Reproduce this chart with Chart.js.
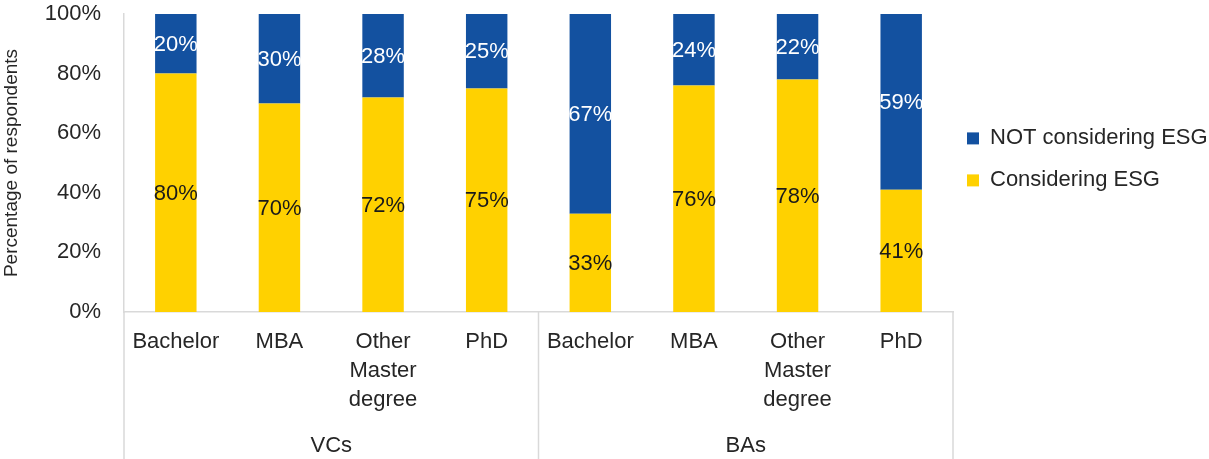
<!DOCTYPE html>
<html lang="en">
<head>
    <meta charset="UTF-8" />
    <title>ESG consideration by education</title>
    <script src="https://cdn.jsdelivr.net/npm/chart.js"></script>
    <style>
        body {
            margin: 0;
            background: #ffffff;
        }
        .chart-box {
            width: 1209px;
            height: 459px;
        }
    </style>
</head>
<body>

<div class="chart-box">
    <canvas id="esgChart"></canvas>
</div>

<script>
    // Data
    const categories = [
        'Bachelor', 'MBA', ['Other', 'Master', 'degree'], 'PhD',
        'Bachelor', 'MBA', ['Other', 'Master', 'degree'], 'PhD'
    ];
    const groups = ['VCs', 'BAs'];
    const groupSize = 4;
    const considering = [80, 70, 72, 75, 33, 76, 78, 41];
    const notConsidering = [20, 30, 28, 25, 67, 24, 22, 59];
    const yTicks = [0, 20, 40, 60, 80, 100];

    const FONT = "'Liberation Sans', Arial, sans-serif";
    const TEXT = '#262626';
    const LINE = '#d9d9d9';

    // Values inside each segment
    const barLabels = {
        id: 'barLabels',
        afterDatasetsDraw(chart) {
            const ctx = chart.ctx;
            ctx.save();
            ctx.font = '22px ' + FONT;
            ctx.textAlign = 'center';
            ctx.textBaseline = 'middle';
            chart.data.datasets.forEach((ds, i) => {
                const meta = chart.getDatasetMeta(i);
                meta.data.forEach((bar, j) => {
                    const p = bar.getProps(['x', 'y', 'base'], true);
                    ctx.fillStyle = ds.labelColor;
                    ctx.fillText(ds.data[j] + '%', p.x, (p.y + p.base) / 2 + 1);
                });
            });
            ctx.restore();
        }
    };

    // Group separators and group names under the category labels
    const groupAxis = {
        id: 'groupAxis',
        afterDraw(chart) {
            const ctx = chart.ctx;
            const x = chart.scales.x;
            const bottom = chart.height;
            const half = (x.getPixelForValue(1) - x.getPixelForValue(0)) / 2;
            ctx.save();
            ctx.strokeStyle = LINE;
            ctx.lineWidth = 1.5;
            for (let g = 0; g <= groups.length; g++) {
                const px = g < groups.length
                    ? x.getPixelForValue(g * groupSize) - half
                    : x.getPixelForValue(categories.length - 1) + half;
                ctx.beginPath();
                ctx.moveTo(px, x.top);
                ctx.lineTo(px, bottom);
                ctx.stroke();
            }
            ctx.font = '22px ' + FONT;
            ctx.fillStyle = TEXT;
            ctx.textAlign = 'center';
            ctx.textBaseline = 'middle';
            groups.forEach((name, g) => {
                const a = x.getPixelForValue(g * groupSize) - half;
                const b = x.getPixelForValue(g * groupSize + groupSize - 1) + half;
                ctx.fillText(name, (a + b) / 2, 446);
            });
            ctx.restore();
        }
    };

    new Chart(document.getElementById('esgChart'), {
        type: 'bar',
        data: {
            labels: categories,
            datasets: [
                {
                    // array labels let the legend use the font lineHeight as row height
                    label: ['Considering ESG'],
                    data: considering,
                    backgroundColor: '#FFD100',
                    labelColor: '#1a1a1a'
                },
                {
                    label: ['NOT considering ESG'],
                    data: notConsidering,
                    backgroundColor: '#1351A0',
                    labelColor: '#ffffff'
                }
            ]
        },
        options: {
            responsive: true,
            maintainAspectRatio: false,
            animation: false,
            layout: { padding: 0 },
            datasets: {
                bar: { categoryPercentage: 1, barPercentage: 0.4 }
            },
            scales: {
                x: {
                    stacked: true,
                    grid: { display: false },
                    border: { display: true, color: LINE, width: 1.5 },
                    ticks: {
                        color: TEXT,
                        font: { family: FONT, size: 22, lineHeight: 1.32 },
                        padding: 7,
                        maxRotation: 0,
                        autoSkip: false
                    },
                    afterFit(scale) { scale.height = 147; }
                },
                y: {
                    stacked: true,
                    min: 0,
                    max: 100,
                    afterBuildTicks(scale) {
                        scale.ticks = yTicks.map(v => ({ value: v }));
                    },
                    grid: { display: false },
                    border: { display: true, color: LINE, width: 1.5 },
                    ticks: {
                        color: TEXT,
                        font: { family: FONT, size: 22 },
                        padding: 15,
                        callback: v => v + '%'
                    },
                    title: {
                        display: true,
                        text: 'Percentage of respondents',
                        color: TEXT,
                        font: { family: FONT, size: 19 },
                        padding: { top: 0, bottom: 0 }
                    },
                    afterFit(scale) {
                        scale.width = 124;
                        scale.paddingTop = 14;
                    }
                }
            },
            plugins: {
                legend: {
                    position: 'right',
                    align: 'start',
                    reverse: true,
                    maxWidth: 256,
                    title: {
                        display: true,
                        text: '',
                        font: { size: 12 },
                        padding: { top: 0, bottom: 99 }
                    },
                    labels: {
                        color: TEXT,
                        font: { family: FONT, size: 22, lineHeight: '28px' },
                        boxWidth: 12,
                        boxHeight: 12,
                        padding: 14
                    }
                },
                tooltip: { enabled: false }
            }
        },
        plugins: [barLabels, groupAxis]
    });
</script>

</body>
</html>
